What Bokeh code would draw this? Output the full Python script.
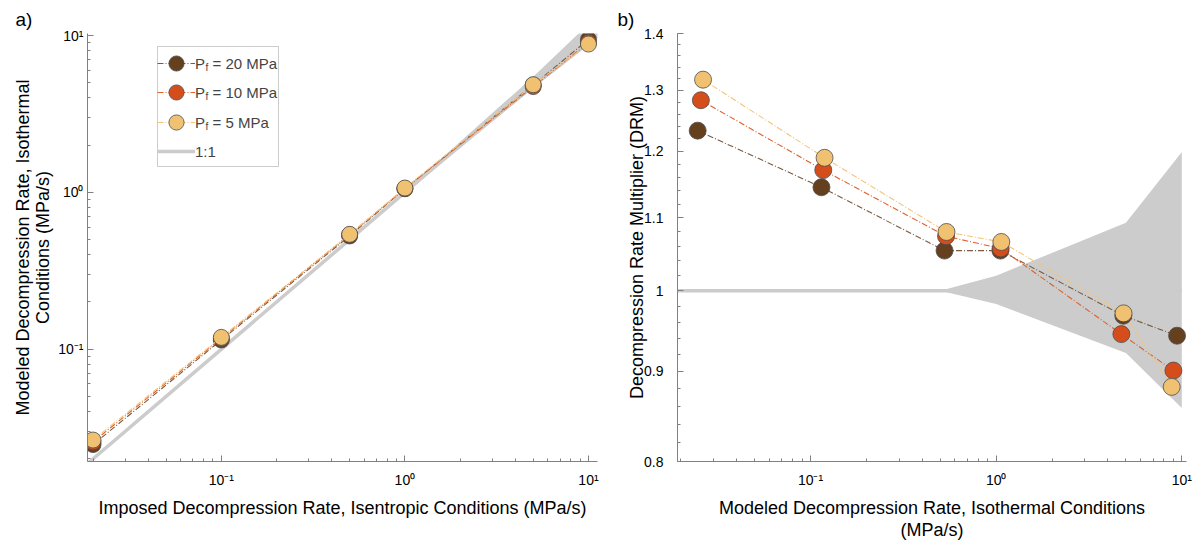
from bokeh.plotting import figure
from bokeh.models import (FixedTicker, CustomJSTickFormatter, Legend, LegendItem,
                          Label, Range1d, BoxAnnotation, Title)
from bokeh.layouts import row
from bokeh.embed import file_html
from bokeh.resources import INLINE
import numpy as np

# ---------------- data ----------------
imposed = [0.02, 0.1, 0.5, 1.0, 5.0, 10.0]          # imposed isentropic rate (MPa/s)
drm_20 = [1.233, 1.145, 1.054, 1.054, 0.968, 0.943]  # Pf = 20 MPa
drm_10 = [1.283, 1.171, 1.074, 1.057, 0.945, 0.901]  # Pf = 10 MPa
drm_5 = [1.318, 1.190, 1.080, 1.066, 0.971, 0.882]   # Pf = 5 MPa
band_x = [0.019, 0.5, 1.0, 5.0, 10.0]                # uncertainty envelope (panel b)
band_x_a = [0.018, 0.5, 1.0, 5.0, 11.3]              # same envelope drawn in panel a
band_hi = [1.0, 1.0, 1.020, 1.093, 1.199]
band_lo = [1.0, 1.0, 0.983, 0.922, 0.858]
series_labels = ["P\u2002= 20 MPa", "P\u2002= 10 MPa", "P\u2002= 5 MPa"]
one_label = "1:1"
log_major = [0.1, 1.0, 10.0]
log_minor = [m * d for d in (0.01, 0.1, 1.0) for m in range(2, 10)]
drm_major = [0.8, 0.9, 1.0, 1.1, 1.2, 1.3, 1.4]
drm_minor = [round(0.8 + 0.02 * k, 2) for k in range(31)]

colors = ["#65401f", "#d44d1b", "#f1c172"]
line_colors = ["#7a5a40", "#e0602c", "#f3c47a"]
BAND = "#cccccc"
AX = "#808080"
FONT = "Liberation Sans"

log_fmt = CustomJSTickFormatter(code="""
const e = Math.round(Math.log10(tick));
const sup = {'-':'\u207b','0':'\u2070','1':'\u00b9','2':'\u00b2','3':'\u00b3'};
return '10' + String(e).split('').map(c => sup[c]).join('');
""")
drm_fmt = CustomJSTickFormatter(code="return (Math.round(tick*10)/10).toString();")


def style(p):
    p.xgrid.visible = False
    p.ygrid.visible = False
    p.outline_line_color = None
    p.background_fill_color = "white"
    p.border_fill_color = "white"
    for ax in (p.xaxis[0], p.yaxis[0]):
        ax.axis_line_color = AX
        ax.major_tick_line_color = AX
        ax.minor_tick_line_color = AX
        ax.major_tick_in = 6
        ax.major_tick_out = 0
        ax.minor_tick_in = 3
        ax.minor_tick_out = 0
        ax.major_label_text_font = FONT
        ax.major_label_text_font_size = "14px"
        ax.major_label_text_color = "black"
        ax.axis_label_text_font = FONT
        ax.axis_label_text_font_size = "18px"
        ax.axis_label_text_font_style = "normal"
        ax.axis_label_text_color = "black"
        ax.axis_label_text_line_height = 1.0
    p.xaxis[0].major_label_standoff = 10
    p.xaxis[0].axis_label_standoff = 7


def panel_title(p, text, offset):
    t = Title(text=text, align="left", offset=offset, standoff=8,
              text_font=FONT, text_font_size="19px", text_font_style="normal",
              text_color="black")
    p.add_layout(t, "above")


# ---------------- panel a ----------------
p1 = figure(frame_width=510, frame_height=428, x_axis_type="log", y_axis_type="log",
            x_range=Range1d(0.01866, 11.2), y_range=Range1d(0.01923, 10.3),
            output_backend="svg", toolbar_location=None,
            min_border_left=87, min_border_right=19, min_border_top=33, min_border_bottom=80)
style(p1)
panel_title(p1, "a)", -72)
p1.xaxis[0].ticker = FixedTicker(ticks=log_major, minor_ticks=log_minor)
p1.yaxis[0].ticker = FixedTicker(ticks=log_major, minor_ticks=log_minor)
p1.xaxis[0].formatter = log_fmt
p1.yaxis[0].formatter = log_fmt
p1.xaxis[0].axis_label = "Imposed Decompression Rate, Isentropic Conditions (MPa/s)"
p1.yaxis[0].axis_label = "Modeled Decompression Rate, Isothermal\nConditions (MPa/s)"
p1.yaxis[0].major_label_standoff = 4
p1.yaxis[0].axis_label_standoff = 2

bxa = np.array(band_x_a)
p1.varea(x=bxa, y1=bxa * np.array(band_lo), y2=bxa * np.array(band_hi), fill_color=BAND)
one = p1.line(bxa, bxa, line_color=BAND, line_width=3.5)

renderer_sets = []
for drm, c, lc in zip([drm_20, drm_10, drm_5], colors, line_colors):
    iso = np.array(imposed) * np.array(drm)
    ln = p1.line(imposed, iso, line_color=lc, line_width=1.1, line_dash="6 2 1 2")
    sc = p1.scatter(imposed, iso, size=16, fill_color=c, line_color="#4d4d4d", line_width=0.8)
    renderer_sets.append([ln, sc])
renderer_sets.append([one])
labels = series_labels + [one_label]

# legend frame
p1.add_layout(BoxAnnotation(left=70, right=191, top=415, bottom=295,
                            left_units="screen", right_units="screen",
                            top_units="screen", bottom_units="screen",
                            fill_color="white", fill_alpha=1,
                            line_color="#555555", line_width=1))
# one legend per entry so that markers can be large while rows stay close together
for rs, lab, ly in zip(renderer_sets, labels, (378, 349, 319, 290)):
    p1.add_layout(Legend(items=[LegendItem(label=lab, renderers=rs)], location=(70, ly),
                         glyph_width=38, glyph_height=40, spacing=0, padding=0,
                         label_standoff=0, margin=0, border_line_color=None,
                         background_fill_alpha=0, label_text_font=FONT,
                         label_text_font_size="15px"))
for yy in (394, 365, 335):
    p1.add_layout(Label(x=118, y=yy, x_units="screen", y_units="screen", text="f",
                        text_font=FONT, text_font_size="10px", text_baseline="middle"))

# ---------------- panel b ----------------
p2 = figure(frame_width=509, frame_height=428, x_axis_type="log", y_axis_type="log",
            x_range=Range1d(0.0192, 10.6), y_range=Range1d(0.8, 1.4),
            output_backend="svg", toolbar_location=None,
            min_border_left=61, min_border_right=6, min_border_top=33, min_border_bottom=80)
style(p2)
panel_title(p2, "b)", -60)
p2.xaxis[0].ticker = FixedTicker(ticks=log_major, minor_ticks=log_minor)
p2.xaxis[0].formatter = log_fmt
p2.yaxis[0].ticker = FixedTicker(ticks=drm_major, minor_ticks=drm_minor)
p2.yaxis[0].formatter = drm_fmt
p2.xaxis[0].axis_label = "Modeled Decompression Rate, Isothermal Conditions"
p2.yaxis[0].axis_label = "Decompression Rate Multiplier (DRM)"
p2.yaxis[0].major_label_standoff = 14
p2.yaxis[0].axis_label_standoff = -6
p2.add_layout(Title(text="(MPa/s)", align="center", standoff=-6, text_font=FONT,
                    text_font_size="18px", text_font_style="normal",
                    text_color="black"), "below")

p2.line(band_x, [1.0] * len(band_x), line_color=BAND, line_width=3.5)
p2.varea(x=band_x, y1=band_lo, y2=band_hi, fill_color=BAND)
for drm, c, lc in zip([drm_20, drm_10, drm_5], colors, line_colors):
    iso = np.array(imposed) * np.array(drm)
    p2.line(iso, drm, line_color=lc, line_width=1.1, line_dash="6 2 1 2")
    p2.scatter(iso, drm, size=17, fill_color=c, line_color="#4d4d4d", line_width=0.8)

layout = row(p1, p2)
open("out.html", "w").write(file_html(layout, INLINE))
